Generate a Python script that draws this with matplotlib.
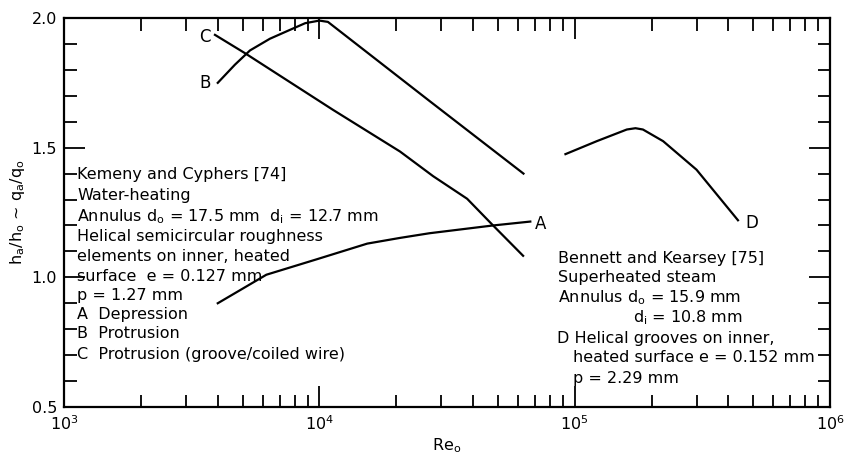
import matplotlib.pyplot as plt
from matplotlib.ticker import FixedLocator, FixedFormatter, MultipleLocator, LogLocator, NullFormatter

plt.rcParams['mathtext.default'] = 'regular'
plt.rcParams['font.family'] = 'DejaVu Sans'

# Curves (Re_o, h_a/h_o)
a_re = [4000, 6200, 9800, 15400, 20700, 27000, 47900, 67000]
a_h = [0.90, 1.01, 1.07, 1.13, 1.152, 1.17, 1.20, 1.215]

b_re = [4000, 4670, 5350, 6400, 7700, 8800, 10000, 10800, 27000, 63000]
b_h = [1.75, 1.82, 1.875, 1.92, 1.955, 1.98, 1.99, 1.985, 1.68, 1.40]

c_re = [3900, 5100, 11300, 20700, 27900, 37900, 47900, 62800]
c_h = [1.935, 1.865, 1.646, 1.485, 1.39, 1.303, 1.20, 1.083]

d_re = [92000, 122000, 160000, 173000, 185000, 222000, 300000, 436000]
d_h = [1.475, 1.525, 1.57, 1.575, 1.57, 1.525, 1.415, 1.22]

x_ticks = [1e3, 1e4, 1e5, 1e6]
x_labels = ['$10^3$', '$10^4$', '$10^5$', '$10^6$']
y_ticks = [0.5, 1.0, 1.5, 2.0]
y_labels = ['0.5', '1.0', '1.5', '2.0']

left_notes = [
    "Kemeny and Cyphers [74]",
    "Water-heating",
    "Annulus d$_o$ = 17.5 mm  d$_i$ = 12.7 mm",
    "Helical semicircular roughness",
    "elements on inner, heated",
    "surface  e = 0.127 mm",
    "p = 1.27 mm",
    "A  Depression",
    "B  Protrusion",
    "C  Protrusion (groove/coiled wire)",
]
right_notes = [
    "Bennett and Kearsey [75]",
    "Superheated steam",
    "Annulus d$_o$ = 15.9 mm",
    "d$_i$ = 10.8 mm",
    "D Helical grooves on inner,",
    "heated surface e = 0.152 mm",
    "p = 2.29 mm",
]

fig = plt.figure(figsize=(8.55, 4.58), dpi=100)
ax = fig.add_axes([0.0749, 0.1114, 0.8959, 0.8493])

for re, h in [(a_re, a_h), (b_re, b_h), (c_re, c_h), (d_re, d_h)]:
    ax.plot(re, h, color='black', lw=1.6)

ax.set_xscale('log')
ax.set_xlim(1e3, 1e6)
ax.set_ylim(0.5, 2.0)

ax.xaxis.set_major_locator(FixedLocator(x_ticks))
ax.xaxis.set_major_formatter(FixedFormatter(x_labels))
ax.xaxis.set_minor_locator(LogLocator(base=10, subs=range(2, 10)))
ax.xaxis.set_minor_formatter(NullFormatter())
ax.yaxis.set_major_locator(FixedLocator(y_ticks))
ax.yaxis.set_major_formatter(FixedFormatter(y_labels))
ax.yaxis.set_minor_locator(MultipleLocator(0.1))

ax.tick_params(which='both', direction='in', top=True, right=True,
               width=1.3, labelsize=11.5, color='black')
ax.tick_params(which='major', length=15, pad=5)
ax.tick_params(which='minor', length=9)
for s in ax.spines.values():
    s.set_linewidth(1.6)

ax.set_xlabel("Re$_o$", fontsize=11.5, labelpad=3)
ax.set_ylabel("h$_a$/h$_o$ ~ q$_a$/q$_o$", fontsize=11.5, labelpad=3)

# Curve labels
ax.text(0.184, 0.951, "C", fontsize=12, ha='center', va='center', transform=ax.transAxes)
ax.text(0.184, 0.833, "B", fontsize=12, ha='center', va='center', transform=ax.transAxes)
ax.text(0.622, 0.470, "A", fontsize=12, ha='center', va='center', transform=ax.transAxes)
ax.text(0.898, 0.473, "D", fontsize=12, ha='center', va='center', transform=ax.transAxes)

# Annotation blocks
left_y = [175, 196, 217, 237, 257, 277, 296, 315, 334, 355]
for txt, py in zip(left_notes, left_y):
    ax.text((77 - 64) / 766, (407 - py) / 389, txt, fontsize=11.5,
            ha='left', va='center', transform=ax.transAxes)

right_x = [558, 558, 558, 633, 557, 573, 573]
right_y = [259, 278, 298, 318, 339, 358, 379]
for txt, px, py in zip(right_notes, right_x, right_y):
    ax.text((px - 64) / 766, (407 - py) / 389, txt, fontsize=11.5,
            ha='left', va='center', transform=ax.transAxes)

fig.savefig("out.png", dpi=100)
